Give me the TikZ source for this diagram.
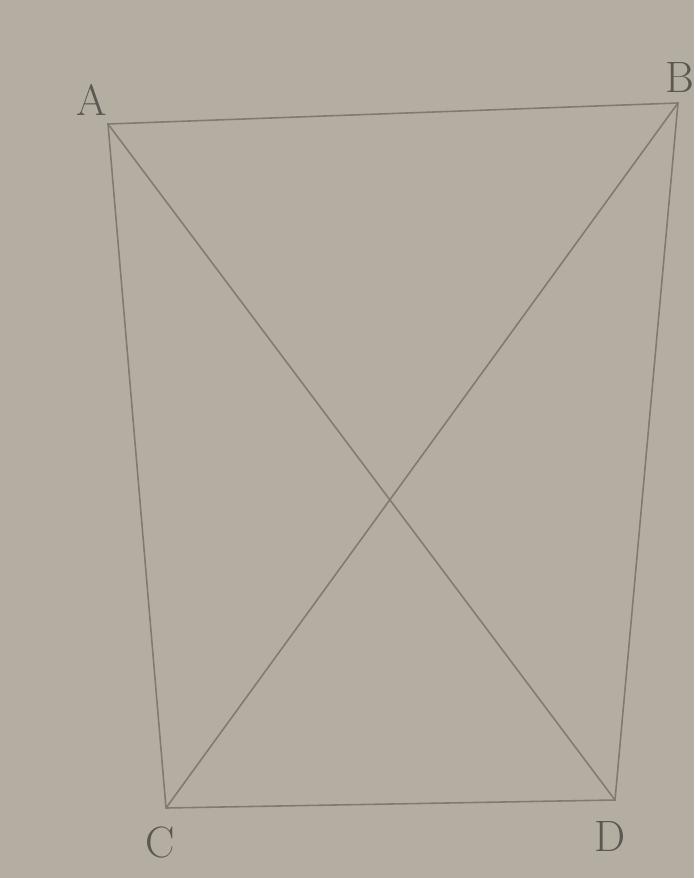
\documentclass[tikz,border=0pt]{standalone}
\usepackage{xcolor}
\definecolor{paper}{RGB}{180,173,162}
\definecolor{pencil}{RGB}{128,122,115}
\definecolor{inkgray}{RGB}{92,87,80}
\tikzset{
  edge/.style={draw=pencil, line width=0.9pt},
  vlabel/.style={text=inkgray, font=\fontsize{25}{30}\selectfont, inner sep=0pt}
}
\begin{document}
\begin{tikzpicture}[x=0.02cm, y=-0.02cm]
  % Paper background
  \fill[paper] (0,0) rectangle (694,878);
  \useasboundingbox (0,0) rectangle (694,878);
  % Corners
  \coordinate (A) at (108,124);
  \coordinate (B) at (678,103);
  \coordinate (C) at (166,808);
  \coordinate (D) at (615,800);
  % Letters
  \node[vlabel] (lA) at (92,100) {A};
  \node[vlabel] (lB) at (680,78) {B};
  \node[vlabel] (lC) at (160,842) {C};
  \node[vlabel] (lD) at (610,836) {D};
  % Sides
  \draw[edge] (A) -- (B) -- (D) -- (C) -- cycle;
  % Diagonals
  \draw[edge] (A) -- (D);
  \draw[edge] (B) -- (C);
\end{tikzpicture}
\end{document}
